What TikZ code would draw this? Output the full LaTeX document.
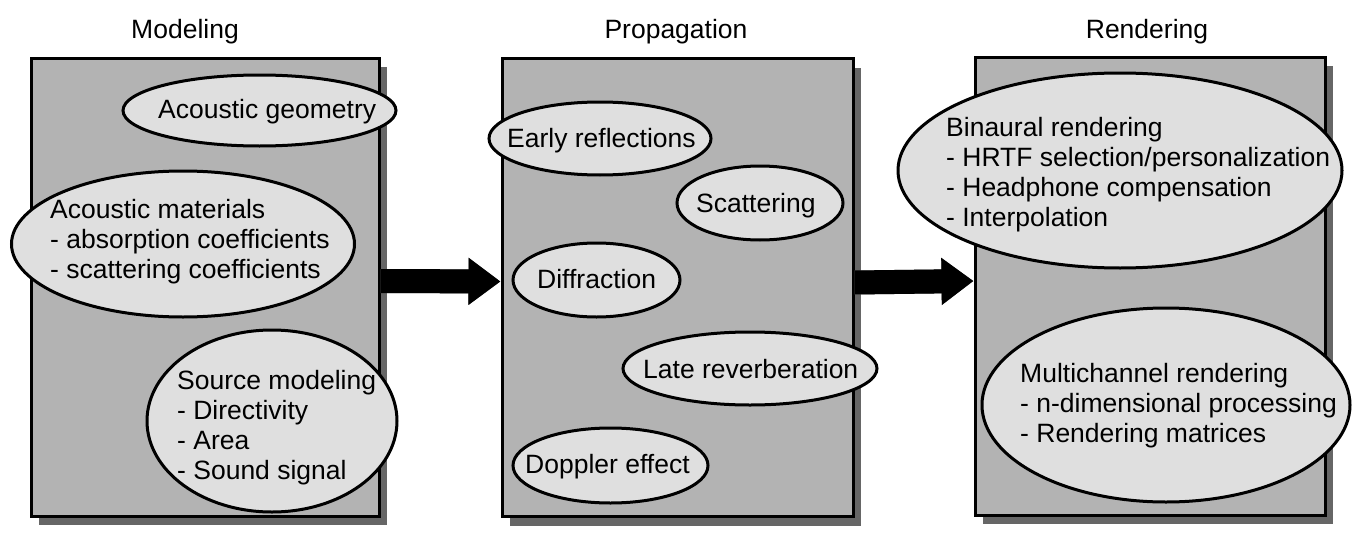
\documentclass[tikz,border=0pt]{standalone}
\usepackage{fontspec}
\setmainfont{Liberation Sans}
\usetikzlibrary{shapes.geometric,shadows,arrows.meta}
\definecolor{boxgray}{HTML}{B3B3B3}
\definecolor{ellgray}{HTML}{DFDFDF}
\definecolor{shadowgray}{HTML}{666666}
\tikzset{
  stagebox/.style={draw=black, line width=3pt, fill=boxgray, rectangle, inner sep=0pt,
    drop shadow={shadow xshift=8pt, shadow yshift=-9pt, fill=shadowgray, opacity=1}},
  bubble/.style={draw=black, line width=3pt, fill=ellgray, ellipse, inner sep=0pt},
  lbl/.style={font=\fontsize{26.5}{30}\selectfont, inner sep=0pt, align=left},
  title/.style={font=\fontsize{26.5}{30}\selectfont, inner sep=0pt, anchor=base},
  bigarrow/.style={line width=24pt, -{Triangle[length=32pt, width=45pt]}},
  arrowshadow/.style={bigarrow, draw=shadowgray, xshift=3pt, yshift=-3pt}
}
\begin{document}
\begin{tikzpicture}[x=1pt, y=-1pt]
\useasboundingbox (0,0) rectangle (1358,554);

% titles
\node[title] (tm) at (185,38) {Modeling};
\node[title] (tp) at (676,38) {Propagation};
\node[title] (tr) at (1147,38) {Rendering};

% stage boxes
\node[stagebox, minimum width=348pt, minimum height=458pt] (m) at (205,287) {};
\node[stagebox, minimum width=351pt, minimum height=458pt] (p) at (677.5,287.5) {};
\node[stagebox, minimum width=350pt, minimum height=458pt] (r) at (1150,286) {};

% arrows
\draw[arrowshadow] ([yshift=6pt]m.east) -- ([yshift=6pt]p.west);
\draw[bigarrow] ([yshift=6pt]m.east) -- ([yshift=6pt]p.west);
\draw[arrowshadow] ([yshift=5pt]p.east) -- ([yshift=5pt]r.west);
\draw[bigarrow] ([yshift=5pt]p.east) -- ([yshift=5pt]r.west);

% modeling
\node[bubble, minimum width=273pt, minimum height=71pt] (geo) at (259.5,110.5) {};
\node[lbl, anchor=base west] (geoT) at (158,118) {Acoustic geometry};
\node[bubble, minimum width=343pt, minimum height=146pt] (mat) at (183,244) {};
\node[lbl, anchor=west] (matT) at (50,242) {Acoustic materials\\- absorption coefficients\\- scattering coefficients};
\node[bubble, minimum width=250pt, minimum height=182pt] (src) at (272,421) {};
\node[lbl, anchor=west] (srcT) at (177,428) {Source modeling\\- Directivity\\- Area\\- Sound signal};

% propagation
\node[bubble, minimum width=222pt, minimum height=73pt] (er) at (600,138.5) {};
\node[lbl, anchor=base west] (erT) at (507,147) {Early reflections};
\node[bubble, minimum width=166pt, minimum height=74pt] (sc) at (760,203) {};
\node[lbl, anchor=base west] (scT) at (696,212) {Scattering};
\node[bubble, minimum width=167pt, minimum height=74pt] (df) at (596.5,280) {};
\node[lbl, anchor=base west] (dfT) at (537,288) {Diffraction};
\node[bubble, minimum width=254pt, minimum height=73pt] (lr) at (750,368.5) {};
\node[lbl, anchor=base west] (lrT) at (643,378) {Late reverberation};
\node[bubble, minimum width=195pt, minimum height=75pt] (dp) at (610.5,465.5) {};
\node[lbl, anchor=base west] (dpT) at (525,473) {Doppler effect};

% rendering
\node[bubble, minimum width=444pt, minimum height=195pt] (bin) at (1120,170.5) {};
\node[lbl, anchor=west] (binT) at (946,175) {Binaural rendering\\- HRTF selection/personalization\\- Headphone compensation\\- Interpolation};
\node[bubble, minimum width=368pt, minimum height=194pt] (mc) at (1166,405) {};
\node[lbl, anchor=west] (mcT) at (1020,406) {Multichannel rendering\\- n-dimensional processing\\- Rendering matrices};
\end{tikzpicture}
\end{document}
